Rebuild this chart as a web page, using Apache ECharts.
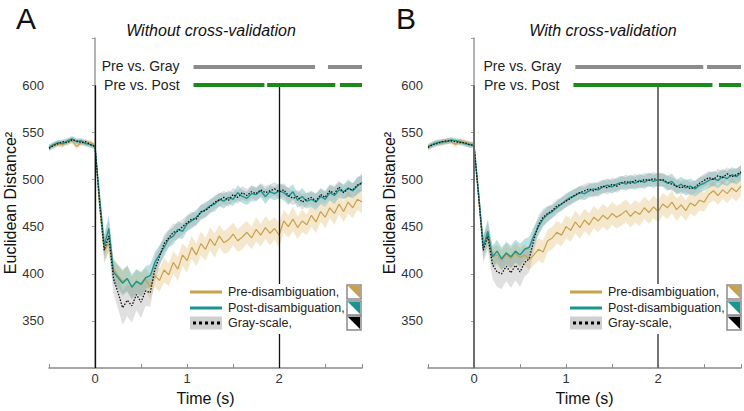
<!DOCTYPE html>
<html><head><meta charset="utf-8">
<script src="https://cdn.jsdelivr.net/npm/echarts@6/dist/echarts.min.js"></script>
<style>html,body{margin:0;padding:0;background:#fff}#c{width:744px;height:411px}</style>
</head><body><div id="c"></div>
<script>
// time grid: -0.5 .. 2.9 s, 0.05 s step (69 samples)
const T = []; for (let i = 0; i < 69; i++) T.push(Math.round((-0.5 + i * 0.05) * 100) / 100);

// Panel A (without cross-validation)
const preA = [533,536,538,537,540,541,535,539,538,539,
  536,470,425,432,405,398,392,395,385,392,
  388,394,386,398,393,404,399,412,405,420,
  414,428,420,432,426,437,430,440,433,436,
  442,435,439,444,438,447,441,449,443,448,
  441,456,450,458,449,456,452,462,455,466,
  460,470,464,474,466,476,470,479,476];
const postA = [534,537,539,538,541,543,540,541,538,537,
  535,480,430,448,402,396,390,395,386,392,
  389,396,398,412,420,428,437,440,447,445,
  453,456,460,465,468,472,474,479,477,481,
  479,486,482,480,485,484,488,482,487,485,
  488,486,482,487,478,482,477,479,476,482,
  479,486,483,489,487,491,488,493,497];
const grayA = [533,536,538,540,539,542,541,539,540,537,
  535,475,425,440,395,380,364,372,366,378,
  370,382,380,405,418,432,438,444,445,450,
  454,458,458,466,467,471,476,478,481,478,
  484,481,486,483,487,485,489,486,488,490,
  487,489,483,480,482,476,479,481,477,484,
  481,488,485,492,486,490,489,494,496];
const preBandA = [3,3,3,3,3,3,3,3,3,3,
  3,8,10,10,12,12,13,13,12,12,
  13,12,13,12,12,13,12,12,13,12,
  13,12,12,13,12,12,13,12,12,13,
  12,12,13,12,12,13,12,12,13,12,
  13,12,12,13,12,12,11,12,12,11,
  12,11,12,11,11,12,11,11,12];
const postBandA = [3,3,3,3,3,3,3,3,3,3,
  3,8,12,14,13,13,13,14,13,13,
  13,12,12,11,10,10,9,9,9,8,
  8,8,8,8,8,7,8,7,8,7,
  7,8,7,7,8,7,7,8,7,7,
  8,8,9,8,8,9,8,8,9,8,
  8,8,9,8,8,9,8,9,9];
const grayBandA = [3,3,3,3,3,3,3,3,3,3,
  3,8,14,16,16,17,18,17,18,17,
  17,16,15,13,11,10,9,9,8,8,
  8,8,7,7,7,7,7,7,7,7,
  7,7,7,7,7,7,7,7,7,7,
  7,7,8,7,7,8,7,7,8,7,
  7,7,8,7,7,8,7,8,8];

// Panel B (with cross-validation)
const preB = [534,537,539,538,541,540,537,541,539,538,
  537,480,432,438,418,420,414,421,416,422,
  417,420,415,420,426,423,435,438,444,441,
  450,446,455,449,457,452,460,456,462,458,
  464,460,463,467,461,466,463,470,465,471,
  466,474,470,476,468,473,467,475,472,478,
  476,484,488,483,489,485,491,487,493];
const postB = [535,537,539,540,540,542,541,540,538,537,
  536,485,428,445,418,424,416,422,418,424,
  420,426,428,440,450,458,463,466,470,474,
  478,481,483,486,485,488,490,489,492,494,
  492,495,497,495,498,496,499,497,500,498,
  500,499,496,498,492,495,491,493,490,494,
  496,499,501,499,503,501,505,503,507];
const grayB = [534,537,538,540,541,541,540,539,539,537,
  536,482,425,440,410,402,400,408,401,409,
  402,412,416,436,452,460,464,467,472,474,
  477,480,484,486,488,490,488,491,493,491,
  495,493,496,498,496,499,497,500,499,501,
  499,500,497,495,493,491,494,490,492,496,
  499,502,500,504,502,506,503,505,508];
const preBandB = [3,3,3,3,3,3,3,3,3,3,
  3,8,10,10,10,11,11,11,11,11,
  11,11,11,11,12,12,12,12,12,12,
  12,12,12,12,12,12,12,12,12,12,
  12,12,12,12,12,12,12,12,12,12,
  12,12,12,12,12,11,11,11,11,11,
  10,10,10,10,10,10,10,10,10];
const postBandB = [3,3,3,3,3,3,3,3,3,3,
  3,8,12,13,12,12,12,12,12,12,
  12,11,11,10,9,8,8,7,7,7,
  7,7,7,7,7,7,7,7,7,7,
  7,7,7,7,7,7,7,7,7,7,
  7,7,8,8,8,8,8,8,8,8,
  8,8,8,8,8,8,8,8,8];
const grayBandB = [3,3,3,3,3,3,3,3,3,3,
  3,8,13,15,15,16,16,16,16,16,
  16,15,14,12,10,9,8,7,7,7,
  7,7,7,7,7,7,7,7,7,7,
  7,7,7,7,7,7,7,7,7,7,
  7,7,7,7,7,7,7,7,7,7,
  7,7,7,7,7,7,7,7,7];

// significance segments [start, end] in seconds
const sigGrayA = [[1.07, 2.39], [2.53, 2.9]];
const sigPostA = [[1.07, 1.84], [1.87, 2.61], [2.66, 2.9]];
const sigGrayB = [[1.10, 2.49], [2.53, 2.9]];
const sigPostB = [[1.08, 2.59], [2.66, 2.9]];
const sigLevels = [620, 600];
const sigNames = ['Pre vs. Gray', 'Pre vs. Post'];
const eventTimes = [0, 2];

const titles = ['Without cross-validation', 'With cross-validation'];
const letters = ['A', 'B'];
const legendNames = ['Pre-disambiguation,', 'Post-disambiguation,', 'Gray-scale,'];

const FONT = '"Liberation Sans", Arial, sans-serif';
const C_PRE = '#C9A14A', C_POST = '#16968F', C_GRAY = '#111';
const B_PRE = 'rgba(236,212,160,0.55)', B_POST = 'rgba(70,170,168,0.36)', B_GRAY = 'rgba(160,160,160,0.33)';

const chart = echarts.init(document.getElementById('c'), null, {renderer: 'svg'});

function xAx(i) {
  return {type: 'value', gridIndex: i, min: -0.5, max: 2.9, interval: 0.5,
    name: 'Time (s)', nameLocation: 'middle', nameGap: 15,
    nameTextStyle: {fontSize: 16, color: '#111', fontFamily: FONT},
    axisLine: {lineStyle: {color: '#8a8a8a', width: 1.5}},
    axisTick: {inside: true, length: 4, lineStyle: {color: '#8a8a8a'}},
    axisLabel: {margin: 4, fontSize: 13, color: '#333', fontFamily: FONT,
      formatter: v => Math.abs(v - Math.round(v)) < 1e-6 && v >= 0 && v <= 2 ? String(Math.round(v)) : ''},
    splitLine: {show: false}};
}
function yAx(i) {
  return {type: 'value', gridIndex: i, min: 300, max: 650, interval: 50,
    name: 'Euclidean Distance²', nameLocation: 'middle', nameGap: 31,
    nameTextStyle: {fontSize: 16, color: '#111', fontFamily: FONT},
    axisLine: {show: true, lineStyle: {color: '#9a9a9a', width: 1.5}},
    axisTick: {show: true, length: 3, lineStyle: {color: '#9a9a9a'}},
    axisLabel: {margin: 5, fontSize: 13, color: '#333', fontFamily: FONT,
      formatter: v => (v >= 350 && v <= 600) ? String(v) : ''},
    splitLine: {show: false}};
}
function band(i, vals, hw, color) {
  return {type: 'custom', xAxisIndex: i, yAxisIndex: i, silent: true, z: 1, data: [[0, 0]],
    renderItem: (params, api) => {
      const up = vals.map((v, k) => api.coord([T[k], v + hw[k]]));
      const lo = vals.map((v, k) => api.coord([T[k], v - hw[k]])).reverse();
      return {type: 'polygon', shape: {points: up.concat(lo)}, style: {fill: color}};
    }};
}
function line(i, vals, color, width, type) {
  return {type: 'line', xAxisIndex: i, yAxisIndex: i, symbol: 'none', silent: true, z: 3,
    data: vals.map((v, k) => [T[k], v]), lineStyle: {color: color, width: width, type: type}};
}
function sigSeries(i, segs, level, color, name) {
  return {type: 'line', xAxisIndex: i, yAxisIndex: i, data: [], silent: true, z: 4,
    markLine: {silent: true, animation: false, symbol: ['none', 'none'],
      lineStyle: {color: color, width: 4, type: 'solid'},
      label: {show: false},
      data: segs.map((s, k) => [
        {coord: [s[0], level], label: k === 0 ? {show: true, position: 'start', distance: 14, formatter: name,
          fontSize: 14, color: '#222', fontFamily: FONT} : {show: false}},
        {coord: [s[1], level]}])}};
}
function eventSeries(i, color, width) {
  return {type: 'line', xAxisIndex: i, yAxisIndex: i, data: [], silent: true, z: 5,
    markLine: {silent: true, animation: false, symbol: ['none', 'none'], label: {show: false},
      lineStyle: {color: color, width: width, type: 'solid'},
      data: eventTimes.map(t => [{coord: [t, 300]}, {coord: [t, 600]}])}};
}

const panels = [
  {pre: preA, post: postA, gray: grayA, pb: preBandA, qb: postBandA, gb: grayBandA, sg: sigGrayA, sp: sigPostA, ev: '#111', evw: 1.3},
  {pre: preB, post: postB, gray: grayB, pb: preBandB, qb: postBandB, gb: grayBandB, sg: sigGrayB, sp: sigPostB, ev: '#666', evw: 1.8}
];
const series = [];
panels.forEach((p, i) => {
  series.push(band(i, p.pre, p.pb, B_PRE));
  series.push(band(i, p.post, p.qb, B_POST));
  series.push(band(i, p.gray, p.gb, B_GRAY));
  series.push(line(i, p.pre, C_PRE, 1.2, 'solid'));
  series.push(line(i, p.post, C_POST, 1.4, 'solid'));
  series.push(line(i, p.gray, C_GRAY, 1.3, [1.5, 1.5]));
  series.push(eventSeries(i, p.ev, p.evw));
  series.push(sigSeries(i, p.sg, sigLevels[0], '#8c8c8c', sigNames[0]));
  series.push(sigSeries(i, p.sp, sigLevels[1], '#1b8a1b', sigNames[1]));
});

// graphics: panel letters, titles, legends
const graphic = [];
const offsets = [0, 380];
const titleX = [211, 603];
offsets.forEach((ox, i) => {
  graphic.push({type: 'text', x: 16 + ox, y: 3, z: 100, style: {text: letters[i], font: '30px ' + FONT, fill: '#111', verticalAlign: 'top'}});
  graphic.push({type: 'text', x: titleX[i], y: 30, z: 100, style: {text: titles[i], font: 'italic 16px ' + FONT, fill: '#111', align: 'center', verticalAlign: 'middle'}});
  graphic.push({type: 'rect', z: 90, shape: {x: 186 + ox, y: 284, width: 178, height: 50}, style: {fill: '#fff'}});
  const ys = [292, 308, 323];
  graphic.push({type: 'line', z: 100, shape: {x1: 190 + ox, y1: ys[0], x2: 222 + ox, y2: ys[0]}, style: {stroke: C_PRE, lineWidth: 3}});
  graphic.push({type: 'line', z: 100, shape: {x1: 190 + ox, y1: ys[1], x2: 222 + ox, y2: ys[1]}, style: {stroke: C_POST, lineWidth: 3}});
  graphic.push({type: 'rect', z: 100, shape: {x: 190 + ox, y: ys[2] - 6.5, width: 32, height: 13}, style: {fill: '#cfcfcf'}});
  graphic.push({type: 'line', z: 101, shape: {x1: 193 + ox, y1: ys[2], x2: 220 + ox, y2: ys[2]}, style: {stroke: '#000', lineWidth: 3, lineDash: [3, 3]}});
  const cols = [C_PRE, C_POST, '#000'];
  legendNames.forEach((n, k) => {
    graphic.push({type: 'text', z: 100, x: 228 + ox, y: ys[k], style: {text: n, font: '12.5px ' + FONT, fill: '#222', verticalAlign: 'middle'}});
    const bx = 347 + ox, by = ys[k] - 7;
    graphic.push({type: 'rect', z: 100, shape: {x: bx, y: by, width: 14, height: 14}, style: {fill: '#fff', stroke: '#8a8a8a', lineWidth: 1.5}});
    graphic.push({type: 'polygon', z: 101, shape: {points: [[bx + 1, by + 1], [bx + 13, by + 1], [bx + 13, by + 13]]}, style: {fill: cols[k]}});
  });
});

chart.setOption({
  animation: false,
  backgroundColor: '#fff',
  textStyle: {fontFamily: FONT},
  grid: [{left: 49, right: 382, top: 38, bottom: 32}, {left: 428, right: 3, top: 38, bottom: 32}],
  xAxis: [xAx(0), xAx(1)],
  yAxis: [yAx(0), yAx(1)],
  series: series,
  graphic: graphic
});
</script>
</body></html>
